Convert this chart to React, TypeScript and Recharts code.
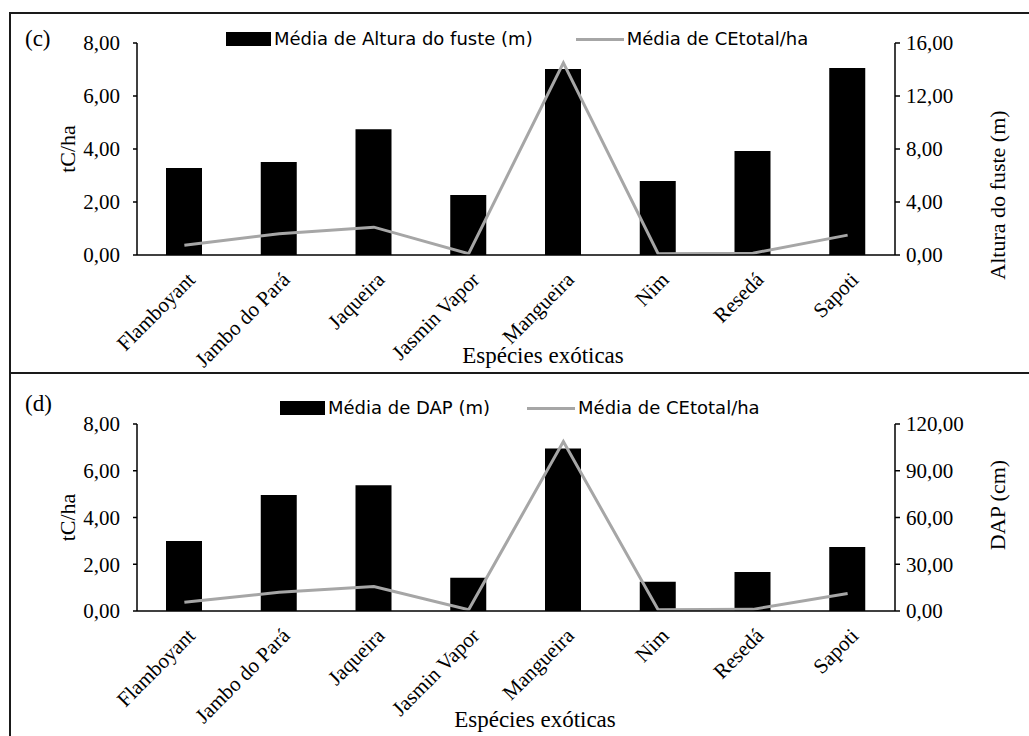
import { ComposedChart, Bar, Line, XAxis, YAxis, Legend } from "recharts";

const species = ["Flamboyant", "Jambo do Pará", "Jaqueira", "Jasmin Vapor", "Mangueira", "Nim", "Resedá", "Sapoti"];
// tC/ha, left axis (same series in both panels)
const ceTotal = [0.37, 0.8, 1.05, 0.05, 7.25, 0.05, 0.07, 0.75];
// right axis values
const alturaFuste = [6.57, 7.02, 9.5, 4.53, 14.04, 5.58, 7.85, 14.11];
const dap = [44.9, 74.4, 80.7, 21.4, 104.2, 18.8, 25.0, 41.1];

const leftTicks = [0, 2, 4, 6, 8];
const alturaTicks = [0, 4, 8, 12, 16];
const dapTicks = [0, 30, 60, 90, 120];

const SERIF = "'Liberation Serif', 'Times New Roman', serif";
const SANS = "'DejaVu Sans', Verdana, sans-serif";
const GRAY = "#a6a6a6";

const fmt = (v: number) => v.toFixed(2).replace(".", ",");

const XTick = ({ x, y, payload }: any) => {
  const ax = x + 12;
  const ay = y + 26;
  return (
    <text x={ax} y={ay} transform={`rotate(-45 ${ax} ${ay})`} textAnchor="end"
      fontFamily={SERIF} fontSize={21} fill="#000">
      {payload.value}
    </text>
  );
};

interface PanelProps {
  tag: string;
  top: number;
  height: number;
  plotTop: number;
  plotH: number;
  barName: string;
  barValues: number[];
  rightTicks: number[];
  rightLabel: string;
  rightLabelY: number;
  legendLeft: number;
  legendTop: number;
  legendGap: number;
  tagTop: number;
  titleDx: number;
  titleDy: number;
}

function Panel(p: PanelProps) {
  const data = species.map((name, i) => ({ name, ce: ceTotal[i], bar: p.barValues[i] }));
  const xAxisH = 100;
  const bottom = p.height - p.plotTop - p.plotH - xAxisH;
  return (
    <div style={{ position: "absolute", left: 0, top: p.top }}>
      <div style={{
        position: "absolute", left: 25, top: p.tagTop,
        fontFamily: SERIF, fontSize: 23, lineHeight: "24px",
      }}>{p.tag}</div>
      <ComposedChart width={1029} height={p.height} data={data}
        margin={{ top: p.plotTop, right: 0, left: 0, bottom }}>
        <XAxis dataKey="name" height={xAxisH} interval={0}
          axisLine={{ stroke: "#000", strokeWidth: 1.5 }}
          tickLine={false} tickSize={0} tickMargin={0}
          tick={<XTick />}
          label={{
            content: ({ viewBox }: any) => (
              <text x={viewBox.x + viewBox.width / 2 + p.titleDx} y={viewBox.y + p.titleDy}
                textAnchor="middle" fontFamily={SERIF} fontSize={23} fill="#000">
                Espécies exóticas
              </text>
            ),
          }} />
        <YAxis yAxisId="left" width={137} domain={[0, 8]} ticks={leftTicks}
          tickFormatter={fmt} interval={0}
          axisLine={{ stroke: "#000", strokeWidth: 1.5 }}
          tickLine={{ stroke: "#000", strokeWidth: 1.5 }} tickSize={4} tickMargin={13}
          tick={{ fontFamily: SERIF, fontSize: 21, fill: "#000" }}
          label={{
            content: ({ viewBox }: any) => {
              const cy = viewBox.y + viewBox.height / 2;
              return (
                <text x={75} y={cy} transform={`rotate(-90 75 ${cy})`} textAnchor="middle"
                  fontFamily={SERIF} fontSize={22} fill="#000">tC/ha</text>
              );
            },
          }} />
        <YAxis yAxisId="right" orientation="right" width={134}
          domain={[p.rightTicks[0], p.rightTicks[p.rightTicks.length - 1]]}
          ticks={p.rightTicks} tickFormatter={fmt} interval={0}
          axisLine={{ stroke: "#000", strokeWidth: 1.5 }}
          tickLine={{ stroke: "#000", strokeWidth: 1.5 }} tickSize={5} tickMargin={6}
          tick={{ fontFamily: SERIF, fontSize: 21, fill: "#000" }}
          label={{
            content: () => (
              <text x={1005} y={p.rightLabelY} transform={`rotate(-90 1005 ${p.rightLabelY})`}
                textAnchor="middle" fontFamily={SERIF} fontSize={22} fill="#000">
                {p.rightLabel}
              </text>
            ),
          }} />
        <Legend layout="horizontal" verticalAlign="middle" align="center"
          wrapperStyle={{ position: "absolute", top: p.legendTop, left: p.legendLeft, width: "auto" }}
          content={({ payload }: any) => {
            const items = [...(payload || [])].sort((a: any, b: any) =>
              (a.type === "rect" ? 0 : 1) - (b.type === "rect" ? 0 : 1));
            return (
              <div style={{ display: "flex", alignItems: "center", fontFamily: SANS, fontSize: 18, lineHeight: "22px", whiteSpace: "nowrap" }}>
                {items.map((e: any, i: number) => (
                  <div key={i} style={{ display: "flex", alignItems: "center", marginLeft: i ? p.legendGap : 0 }}>
                    {e.type === "rect"
                      ? <span style={{ width: 45, height: 14, background: "#000", marginRight: 3 }} />
                      : <span style={{ width: 48, height: 3, background: GRAY, marginRight: 3 }} />}
                    <span style={{ color: "#000" }}>{e.value}</span>
                  </div>
                ))}
              </div>
            );
          }} />
        <Bar yAxisId="right" dataKey="bar" name={p.barName} fill="#000" barSize={36}
          legendType="rect" isAnimationActive={false} />
        <Line yAxisId="left" dataKey="ce" name="Média de CEtotal/ha" type="linear"
          stroke={GRAY} strokeWidth={3} dot={false} legendType="line" isAnimationActive={false} />
      </ComposedChart>
    </div>
  );
}

export default function App() {
  return (
    <div style={{ position: "absolute", left: 0, top: 0, width: 1029, height: 736, overflow: "hidden", background: "#fff" }}>
      <div style={{ position: "absolute", left: 9, top: 12, width: 1030, height: 740, borderTop: "2px solid #1a1a1a", borderLeft: "2px solid #1a1a1a" }} />
      <div style={{ position: "absolute", left: 9, top: 372, width: 1030, height: 0, borderTop: "2px solid #1a1a1a" }} />
      <Panel tag="(c)" top={13} height={360} plotTop={30} plotH={212}
        barName="Média de Altura do fuste (m)" barValues={alturaFuste}
        rightTicks={alturaTicks} rightLabel="Altura do fuste (m)" rightLabelY={182}
        legendLeft={226} legendTop={15} legendGap={43} tagTop={14}
        titleDx={27} titleDy={108} />
      <Panel tag="(d)" top={373} height={363} plotTop={51} plotH={187}
        barName="Média de DAP (m)" barValues={dap}
        rightTicks={dapTicks} rightLabel="DAP (cm)" rightLabelY={132}
        legendLeft={280} legendTop={24} legendGap={37} tagTop={19}
        titleDx={19} titleDy={116} />
    </div>
  );
}
